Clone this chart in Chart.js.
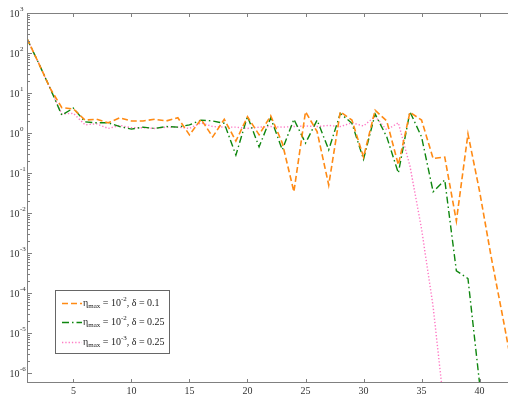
<!DOCTYPE html>
<html>
<head>
<meta charset="utf-8">
<script src="https://cdn.jsdelivr.net/npm/chart.js@4.4.0/dist/chart.umd.min.js"></script>
<style>
html, body { margin: 0; padding: 0; background: #fff; }
</style>
</head>
<body>
<canvas id="chart" width="508" height="395"></canvas>
<script>
// iteration number on x, residual (log scale) on y
const iterations = [1, 2, 3, 4, 5, 6, 7, 8, 9, 10, 11, 12, 13, 14, 15, 16, 17, 18, 19, 20, 21,
    22, 23, 24, 25, 26, 27, 28, 29, 30, 31, 32, 33, 34, 35, 36, 37, 38, 39, 40, 41, 42, 43];

const orangeVals = [230, 56, 13, 4.3, 4.0, 2.1, 2.2, 1.8, 2.4, 2.0, 2.0, 2.2, 2.0, 2.4, 0.9,
    2.2, 0.8, 2.2, 0.63, 2.55, 0.9, 2.7, 0.56, 0.034, 3.4, 1.08, 0.05, 3.4, 2.1, 0.25,
    3.7, 2.0, 0.16, 3.3, 2.1, 0.23, 0.25, 0.0063, 0.95, 0.035, 8e-4, 2.5e-5, 7e-7];

const greenVals = [230, 56, 13, 2.8, 4.2, 1.9, 1.8, 1.8, 1.45, 1.25, 1.4, 1.3, 1.45, 1.4, 1.6,
    2.1, 2.0, 1.75, 0.28, 2.6, 0.45, 2.4, 0.38, 2.2, 0.56, 2.1, 0.38, 3.1, 1.75, 0.22,
    3.0, 0.8, 0.1, 3.4, 0.8, 0.034, 0.067, 3.6e-4, 2.3e-4, 5.5e-7, null, null, null];

const pinkVals = [230, 56, 13, 3.0, 3.1, 1.6, 1.7, 1.3, 1.55, 1.35, 1.35, 1.3, 1.4, 1.4, 1.3,
    1.8, 1.45, 1.4, 1.4, 1.3, 1.4, 1.45, 1.4, 1.45, 1.5, 1.45, 1.55, 1.45, 1.8, 1.5,
    2.6, 1.2, 1.8, 0.15, 0.004, 4.5e-5, 1e-7, null, null, null, null, null, null];

const xTicks = [5, 10, 15, 20, 25, 30, 35, 40];
const yDecades = [-6, -5, -4, -3, -2, -1, 0, 1, 2, 3];

// legend text: eta_max = 10^etaExp, delta = deltaVal
const etaExp = ['-2', '-2', '-3'];
const deltaVal = ['0.1', '0.25', '0.25'];

const serif = '"Liberation Serif", "DejaVu Serif", serif';
const yMin = Math.pow(10, -6.25);
const yMax = 1000;

function pts(vals) {
    return vals.map((v, i) => ({ x: iterations[i], y: v }));
}

const datasets = [{
    data: pts(orangeVals),
    borderColor: '#ff8a14',
    borderDash: [6, 3],
    borderWidth: 1.6
}, {
    data: pts(greenVals),
    borderColor: '#0e860e',
    borderDash: [7, 3, 1.5, 3],
    borderWidth: 1.4
}, {
    data: pts(pinkVals),
    borderColor: '#ff78c4',
    borderDash: [1.3, 2],
    borderWidth: 1.4
}];
datasets.forEach(d => {
    d.pointRadius = 0;
    d.fill = false;
    d.tension = 0;
});

const frame = {
    id: 'frame',
    afterDraw(chart) {
        const ctx = chart.ctx;
        const a = chart.chartArea;
        const xs = chart.scales.x;
        const ys = chart.scales.y;
        ctx.save();
        ctx.strokeStyle = '#808080';
        ctx.lineWidth = 1;
        ctx.beginPath();
        ctx.moveTo(a.left + 0.5, a.top + 0.5);
        ctx.lineTo(a.right, a.top + 0.5);
        ctx.moveTo(a.left + 0.5, a.top);
        ctx.lineTo(a.left + 0.5, a.bottom);
        ctx.moveTo(a.left, a.bottom - 0.5);
        ctx.lineTo(a.right, a.bottom - 0.5);
        xTicks.forEach(v => {
            const px = Math.round(xs.getPixelForValue(v)) + 0.5;
            ctx.moveTo(px, a.bottom);
            ctx.lineTo(px, a.bottom - 4);
            ctx.moveTo(px, a.top);
            ctx.lineTo(px, a.top + 4);
        });
        ys.ticks.forEach(t => {
            const py = Math.round(ys.getPixelForValue(t.value)) + 0.5;
            if (py < a.top || py > a.bottom) return;
            const len = t.major ? 5 : 3;
            ctx.moveTo(a.left, py);
            ctx.lineTo(a.left + len, py);
        });
        ctx.stroke();

        // y labels 10^k
        ctx.fillStyle = '#333';
        ctx.textBaseline = 'middle';
        yDecades.forEach(k => {
            const py = ys.getPixelForValue(Math.pow(10, k));
            ctx.font = '10px ' + serif;
            ctx.textAlign = 'right';
            ctx.fillText('10', 19.5, py + 1);
            ctx.font = '7px ' + serif;
            ctx.textAlign = 'left';
            ctx.fillText(k < 0 ? '-' + (-k) : String(k), 20, py - 4);
        });

        // legend
        const bx = 55, by = 290, bw = 114, bh = 63;
        ctx.fillStyle = '#fff';
        ctx.fillRect(bx, by, bw, bh);
        ctx.strokeStyle = '#666';
        ctx.strokeRect(bx + 0.5, by + 0.5, bw, bh);
        const rows = [303, 322, 342];
        datasets.forEach((d, i) => {
            const y = rows[i];
            ctx.save();
            ctx.strokeStyle = d.borderColor;
            ctx.lineWidth = d.borderWidth;
            ctx.setLineDash(d.borderDash);
            ctx.beginPath();
            ctx.moveTo(62, y + 0.5);
            ctx.lineTo(82, y + 0.5);
            ctx.stroke();
            ctx.restore();

            ctx.fillStyle = '#222';
            ctx.textAlign = 'left';
            ctx.textBaseline = 'middle';
            let x = 83;
            const put = (s, size, dy) => {
                ctx.font = size + 'px ' + serif;
                ctx.fillText(s, x, y + dy);
                x += ctx.measureText(s).width;
            };
            put('\u03b7', 10, 0);
            put('max', 7, 3);
            put(' = 10', 10, 0);
            put(etaExp[i], 7, -4);
            put(', \u03b4 = ' + deltaVal[i], 10, 0);
        });
        ctx.restore();
    }
};

new Chart(document.getElementById('chart'), {
    type: 'line',
    data: { datasets: datasets },
    options: {
        responsive: false,
        animation: false,
        events: [],
        layout: { padding: { top: 13, right: 0, left: 0, bottom: 0 } },
        plugins: {
            legend: { display: false },
            tooltip: { enabled: false },
            title: { display: false }
        },
        scales: {
            x: {
                type: 'linear',
                min: 1,
                max: 42.45,
                afterBuildTicks: s => { s.ticks = xTicks.map(v => ({ value: v })); },
                afterFit: s => { s.height = 12; },
                grid: { display: false, drawTicks: false },
                border: { display: false },
                ticks: {
                    padding: 2,
                    autoSkip: false,
                    maxRotation: 0,
                    color: '#333',
                    font: { family: serif, size: 10 }
                }
            },
            y: {
                type: 'logarithmic',
                min: yMin,
                max: yMax,
                afterBuildTicks: s => {
                    const t = [];
                    yDecades.forEach(k => {
                        for (let m = 1; m <= 9; m++) {
                            const v = m * Math.pow(10, k);
                            if (v >= yMin && v <= yMax) t.push({ value: v, major: m === 1 });
                        }
                    });
                    s.ticks = t;
                },
                afterFit: s => { s.width = 27; },
                grid: { display: false, drawTicks: false },
                border: { display: false },
                ticks: { display: false }
            }
        }
    },
    plugins: [frame]
});
</script>
</body>
</html>
